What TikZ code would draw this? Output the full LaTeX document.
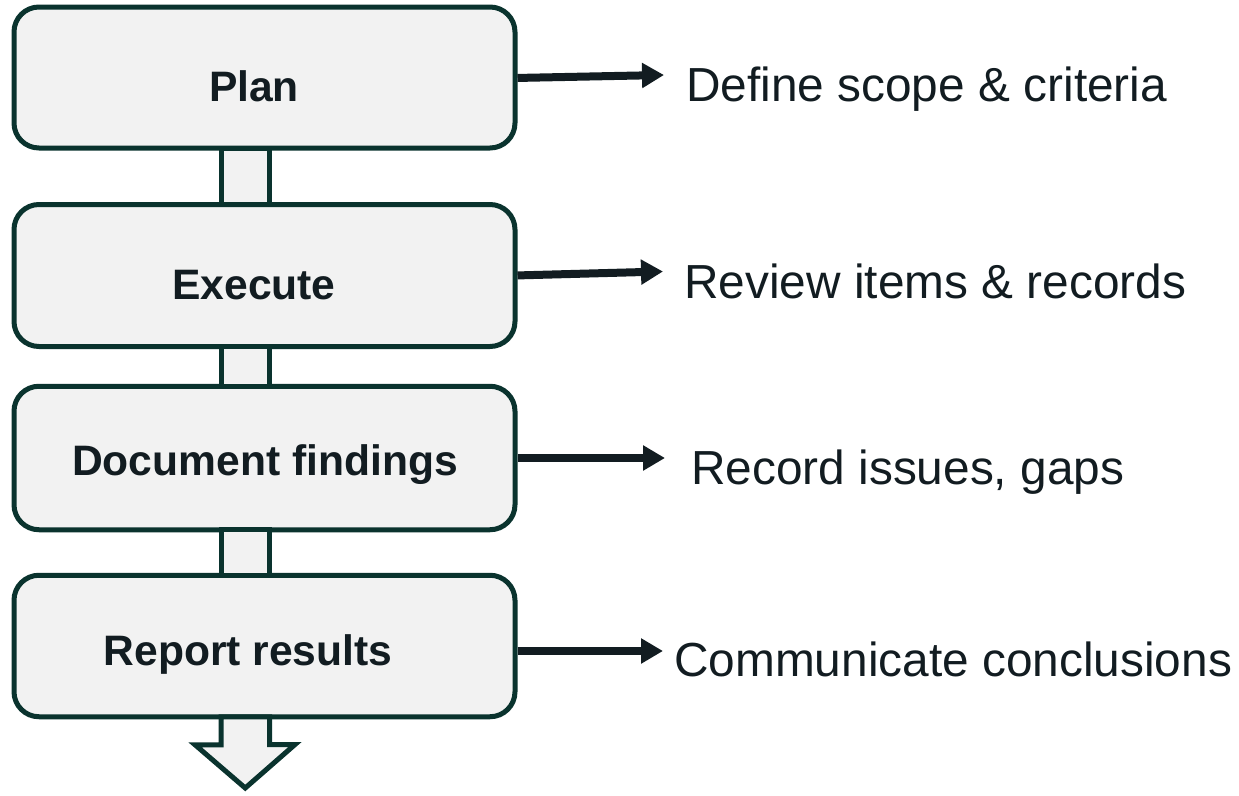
\documentclass[tikz,border=0pt]{standalone}
\usepackage{fontspec}
\setmainfont{Liberation Sans}
\usepackage{xcolor}
\usetikzlibrary{arrows.meta,calc}

\definecolor{edgegreen}{HTML}{0A332E}
\definecolor{boxfill}{HTML}{F2F2F2}
\definecolor{inkdark}{HTML}{121C21}

\tikzset{
  stage/.style={rectangle, draw=edgegreen, fill=boxfill, line width=5pt,
    rounded corners=25pt, minimum width=501pt, outer sep=0pt},
  stagetext/.style={inner sep=0pt, text=inkdark, font=\fontsize{42.6}{50}\selectfont\bfseries},
  notetext/.style={inner sep=0pt, text=inkdark, font=\fontsize{47.8}{56}\selectfont, anchor=base west},
  spine/.style={draw=edgegreen, fill=boxfill, line width=5pt, line join=miter},
  pointer/.style={draw=inkdark, line width=8pt, shorten <=2.5pt,
    -{Triangle[length=22pt,width=24pt]}}
}

\begin{document}
\begin{tikzpicture}[x=1pt, y=-1pt]
    \useasboundingbox (0,0) rectangle (1239,795);
    % Stages
    \node (plan) [stage, minimum height=141pt] at (264.5,77.5) {};
    \node (exec) [stage, minimum height=142pt] at (264.5,275.5) {};
    \node (docu) [stage, minimum height=143.5pt] at (264.5,458) {};
    \node (report) [stage, minimum height=141.5pt] at (264.5,646) {};

    \node (plantext) [stagetext, anchor=base] at ($(plan.center)+(-10.5,23.5)$) {Plan};
    \node (exectext) [stagetext, anchor=base] at ($(exec.center)+(-10.5,23.5)$) {Execute};
    \node (docutext) [stagetext, anchor=base] at ($(docu.center)+(0.5,17)$) {Document findings};
    \node (reporttext) [stagetext, anchor=base] at ($(report.center)+(-16.5,19)$) {Report results};

    % Spine between stages
    \coordinate (sl) at (221,0);
    \coordinate (sr) at (269.5,0);
    \draw [spine] (plan.south -| sl) rectangle (exec.north -| sr);
    \draw [spine] (exec.south -| sl) rectangle (docu.north -| sr);
    \draw [spine] (docu.south -| sl) rectangle (report.north -| sr);
    \draw [spine] (report.south -| sl) -- ++(0,28) -- ++(-26,0) -- (245.25,788)
      -- (295,744.5) -- ++(-25.5,0) -- (report.south -| sr) -- cycle;

    % Notes
    \node (plannote) [notetext] at (686,101) {Define scope \& criteria};
    \node (execnote) [notetext] at (684,298) {Review items \& records};
    \node (docunote) [notetext] at (691,484) {Record issues, gaps};
    \node (reportnote) [notetext] at (674,676) {Communicate conclusions};

    \coordinate (plantip) at (664,75);
    \coordinate (exectip) at (663,271.5);
    \coordinate (docutip) at (665,458);
    \coordinate (reporttip) at (663,651);

    % Links
    \draw [pointer] ([yshift=-0.5pt]plan.east) -- (plantip);
    \draw [pointer] (exec.east) -- (exectip);
    \draw [pointer] (docu.east) -- (docutip);
    \draw [pointer] ([yshift=-5pt]report.east) -- (reporttip);
\end{tikzpicture}
\end{document}
